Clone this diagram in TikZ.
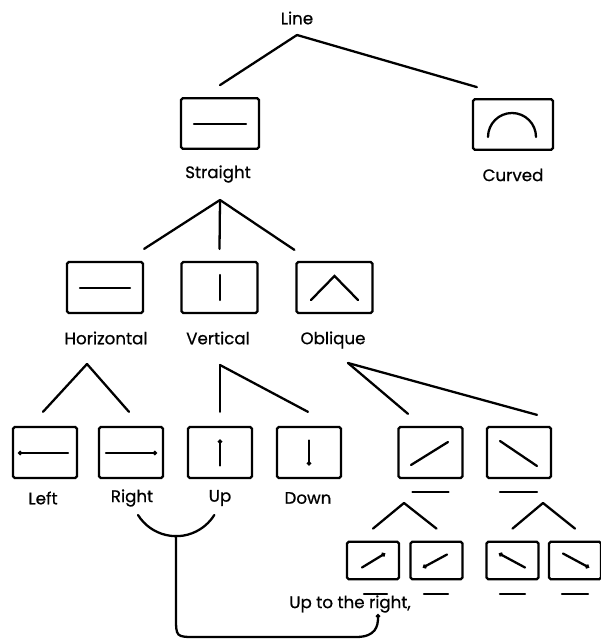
\documentclass[tikz,border=0pt]{standalone}
\usepackage{fontspec}
\setmainfont{Poppins}
\newfontfamily\tagfont{Poppins}[FakeBold=0.7]
\usepackage{tikz}
\usetikzlibrary{
	arrows.meta,
	positioning,
}
\tikzset{box/.style={draw,rectangle,rounded corners=1pt,inner sep=0mm,line width=1.3pt}}
\tikzset{box a/.style={box,minimum width=1.56cm,minimum height=1.01cm}}
\tikzset{box b/.style={box,minimum width=1.52cm,minimum height=1.02cm}}
\tikzset{box c/.style={box,minimum width=1.28cm,minimum height=1.02cm}}
\tikzset{box d/.style={box,minimum width=1.04cm,minimum height=0.75cm}}
\tikzset{tag/.style={inner sep=0mm,font=\tagfont\fontsize{9.5pt}{11pt}\selectfont}}
\tikzset{dot/.style={-{Circle[length=2.4pt]}}}

\begin{document}
\begin{tikzpicture}[x=0.02cm,y=-0.02cm,line width=1.3pt,line cap=round]
\useasboundingbox (0,0) rectangle (600,641);

% line
\node[tag](line) at(297,18) {Line};
\coordinate(line-a) at(297,35);

\node[box a](straight) at(220,123.5) {};
\node[box a,minimum width=1.6cm](curved) at(513,124.5) {};
\node[tag](straight-t) at(218,174) {Straight};
\node[tag](curved-t) at(513,175) {Curved};

\draw (line-a) -- ([shift={(0,-12)}]straight.north);
\draw (line-a) -- ([shift={(5,-11)}]curved.north west);

\draw (straight.center) ++(-26,0.5) -- ++(52,0);
\draw (curved.center) ++(-25,12.5) arc[start angle=180,end angle=360,radius=24];

% straight
\coordinate(straight-a) at(220,200);
\node[box b](horiz) at(105,287.5) {};
\node[box b](vert) at(219.5,287.5) {};
\node[box b](obl) at(334.5,287.5) {};
\node[tag](horiz-t) at(106,338) {Horizontal};
\node[tag](vert-t) at(218,338) {Vertical};
\node[tag](obl-t) at(333,340) {Oblique};

\draw (straight-a) -- ([shift={(0,-12)}]horiz.north east);
\draw (straight-a) -- ([shift={(0,-12)}]vert.north);
\draw (straight-a) -- ([shift={(-1,-11)}]obl.north west);

\draw (horiz.center) ++(-25,0.5) -- ++(50,0);
\draw (vert.center) ++(0.5,-12.5) -- ++(0,25);
\draw (obl.center) ++(-23.5,12.5) -- ++(23.5,-24) -- ++(23.5,24);

% horizontal, vertical
\coordinate(horiz-a) at(87,364);
\coordinate(vert-a) at(220,365);
\node[box c](left) at(45,452.5) {};
\node[box c](right) at(131,452.5) {};
\node[box c](up) at(220,452.5) {};
\node[box c](down) at(309,452.5) {};
\node[tag](left-t) at(43,498) {Left};
\node[tag](right-t) at(132,498) {Right};
\node[tag](up-t) at(220,498) {Up};
\node[tag](down-t) at(308,498) {Down};

\draw (horiz-a) -- ([shift={(-2,-14)}]left.north);
\draw (horiz-a) -- ([shift={(-2,-14)}]right.north);
\draw (vert-a) -- ([shift={(0,-14)}]up.north);
\draw (vert-a) -- ([shift={(-1,-14)}]down.north);

\draw[dot] (left.center) ++(23,0.5) -- ++(-50,0);
\draw[dot] (right.center) ++(-25,0.5) -- ++(51,0);
\draw[dot] (up.center) ++(0,13) -- ++(0,-26);
\draw[dot] (down.center) ++(0,-12) -- ++(0,25);

% oblique
\coordinate(obl-a) at(348,363);
\node[box c](obl-ur) at(430.5,452.5) {};
\node[box c](obl-dr) at(519,452.5) {};

\draw (obl-a) -- ([shift={(-22.5,-12)}]obl-ur.north);
\draw (obl-a) -- ([shift={(18,-11)}]obl-dr.north);

\draw (obl-ur.center) ++(-19.5,12.5) -- ++(37,-23);
\draw (obl-dr.center) ++(-19,-11.5) -- ++(37,25);
\draw (obl-ur.south) ++(-18,13) -- ++(36,0);
\draw (obl-dr.south) ++(-19,13) -- ++(37,0);

\coordinate(ur-a) at(404,503);
\coordinate(dr-a) at(543,503);
\node[box d](ur-1) at(373,560.5) {};
\node[box d](ur-2) at(436.5,560.5) {};
\node[box d](dr-1) at(512.5,560.5) {};
\node[box d](dr-2) at(575,560.5) {};

\draw (ur-a) -- ([shift={(0,-12)}]ur-1.north);
\draw (ur-a) -- ([shift={(0,-12)}]ur-2.north);
\draw (dr-a) -- ([shift={(0,-12)}]dr-1.north);
\draw (dr-a) -- ([shift={(0,-12)}]dr-2.north);

\draw[dot] (ur-1.center) ++(-11,7) -- ++(23,-14);
\draw[dot] (ur-2.center) ++(10.5,-6) -- ++(-24,13);
\draw[dot] (dr-1.center) ++(12.5,7) -- ++(-26,-14);
\draw[dot] (dr-2.center) ++(-12,-7) -- ++(26,14);
\draw (ur-1.south) ++(-9,13.5) -- ++(23,0);
\draw (ur-2.south) ++(-12.5,13.5) -- ++(24,0);
\draw (dr-1.south) ++(-12.5,13.5) -- ++(25,0);
\draw (dr-2.south) ++(-13,13.5) -- ++(26,0);

% up to the right
\node[tag](upright) at(350,604) {Up to the right,};
\coordinate(u-l) at(138,515);
\coordinate(u-m) at(176,536);
\coordinate(u-end) at(378,614);

\draw (u-l) arc[start angle=148,end angle=32,radius=45];
\draw[dot] (u-m) -- (176,617) .. controls (176,637) .. (196,637) -- (356,637) .. controls (376,637) and (378,626) .. (u-end);

\end{tikzpicture}
\end{document}
